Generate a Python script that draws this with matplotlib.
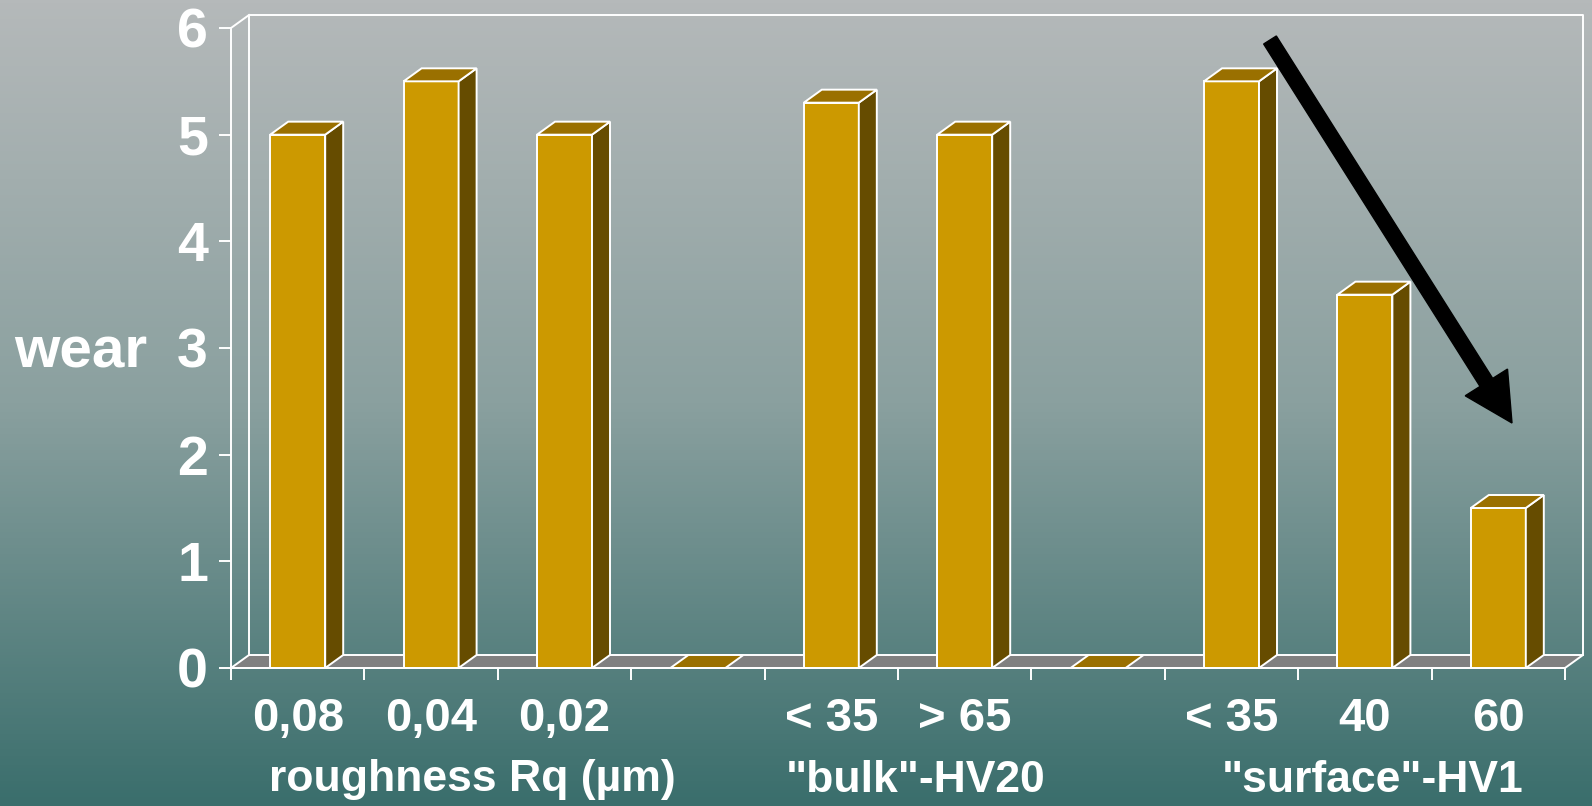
import numpy as np
import matplotlib

matplotlib.use("Agg")
import matplotlib.pyplot as plt
from matplotlib.colors import LinearSegmentedColormap
from matplotlib.patches import FancyArrow, Polygon, Rectangle
from matplotlib.transforms import blended_transform_factory

# wear per sample, one slot per category (empty slots are spacers)
categories = ["0,08", "0,04", "0,02", "", "< 35", "> 65", "", "< 35", "40", "60"]
wear = [5.0, 5.5, 5.0, 0.0, 5.3, 5.0, 0.0, 5.5, 3.5, 1.5]
group_names = ["roughness Rq (µm)", '"bulk"-HV20', '"surface"-HV1']
group_centers = [1.81, 5.13, 8.56]
y_ticks = [0, 1, 2, 3, 4, 5, 6]

W, H, DPI = 1592, 806, 100
FONT = "Liberation Sans"
FRONT = "#cc9900"
TOP = "#9a7000"
SIDE = "#664c00"
FLOOR = "#808080"
EDGE = "white"

fig = plt.figure(figsize=(W / DPI, H / DPI), dpi=DPI)

# vertical background gradient
bg = fig.add_axes([0, 0, 1, 1], zorder=0)
cmap = LinearSegmentedColormap.from_list(
    "bg", [(0.0, "#b5b9ba"), (0.5, "#8aa09f"), (1.0, "#3a6e6c")]
)
bg.imshow(np.linspace(0, 1, 256)[:, None], cmap=cmap, aspect="auto",
          extent=[0, 1, 0, 1])
bg.set_axis_off()

# front plane of the pseudo-3d chart, in pixel placement
left, right, bottom, top = 231, 1565, 668, 28
ax = fig.add_axes([left / W, (H - bottom) / H, (right - left) / W, (bottom - top) / H],
                  zorder=1)
ax.set_xlim(0, len(categories))
ax.set_ylim(0, 6)
ax.patch.set_visible(False)

px_x = (right - left) / len(categories)
px_y = (bottom - top) / 6.0
DX = 18 / px_x
DY = 13 / px_y
BW = 55 / px_x
n = len(categories)
lw = 1.4

# floor, back wall and left wall
ax.add_patch(Polygon([(0, 0), (n, 0), (n + DX, DY), (DX, DY)], closed=True,
                     facecolor=FLOOR, edgecolor=EDGE, lw=lw, clip_on=False, zorder=2))
ax.plot([DX, DX, n + DX, n + DX], [DY, 6 + DY, 6 + DY, DY], color=EDGE, lw=lw,
        clip_on=False, zorder=2)
ax.plot([0, DX], [6, 6 + DY], color=EDGE, lw=lw, clip_on=False, zorder=2)

for i, v in enumerate(wear):
    x0 = i + 0.5 - BW / 2
    x1 = x0 + BW
    if v > 0:
        ax.add_patch(Rectangle((x0, 0), BW, v, facecolor=FRONT, edgecolor=EDGE,
                               lw=lw, clip_on=False, zorder=3))
        ax.add_patch(Polygon([(x1, 0), (x1 + DX, DY), (x1 + DX, v + DY), (x1, v)],
                             closed=True, facecolor=SIDE, edgecolor=EDGE, lw=lw,
                             clip_on=False, zorder=3))
    ax.add_patch(Polygon([(x0, v), (x1, v), (x1 + DX, v + DY), (x0 + DX, v + DY)],
                         closed=True, facecolor=TOP, edgecolor=EDGE, lw=lw,
                         clip_on=False, zorder=3))

for side in ("top", "right"):
    ax.spines[side].set_visible(False)
for side in ("left", "bottom"):
    ax.spines[side].set_color(EDGE)
    ax.spines[side].set_linewidth(lw)
    ax.spines[side].set_zorder(4)

ax.set_yticks(y_ticks)
ax.set_yticklabels([str(t) for t in y_ticks])
ax.set_xticks(range(n + 1))
ax.set_xticklabels([])
ax.set_xticks([i + 0.5 for i in range(n)], minor=True)
ax.set_xticklabels(categories, minor=True)
ax.tick_params(axis="y", length=8.6, width=lw, color=EDGE, pad=8,
               labelcolor=EDGE, labelsize=40)
ax.tick_params(axis="x", which="major", length=8.6, width=lw, color=EDGE)
ax.tick_params(axis="x", which="minor", length=0, pad=21, labelcolor=EDGE,
               labelsize=34)
for lab in ax.get_yticklabels() + ax.get_xticklabels(minor=True):
    lab.set_fontfamily(FONT)
    lab.set_fontweight("bold")

# group captions under the tick labels
trans = blended_transform_factory(ax.transData, fig.transFigure)
for name, cx in zip(group_names, group_centers):
    ax.text(cx, (H - 780) / H, name, transform=trans, ha="center", va="center",
            color=EDGE, fontsize=32, fontweight="bold", fontfamily=FONT)

fig.text(14 / W, (H - 352) / H, "wear", ha="left", va="center", color=EDGE,
         fontsize=42, fontweight="bold", fontfamily=FONT)

# trend arrow over the surface hardness group
tail = (1270, 40)
tip = (1512, 423)
fig.patches.append(FancyArrow(tail[0] / DPI, (H - tail[1]) / DPI,
                              (tip[0] - tail[0]) / DPI, -(tip[1] - tail[1]) / DPI,
                              width=15 / DPI, head_width=50 / DPI, head_length=48 / DPI,
                              length_includes_head=True, color="black",
                              transform=fig.dpi_scale_trans, zorder=5))

fig.savefig("out.png", dpi=DPI)
